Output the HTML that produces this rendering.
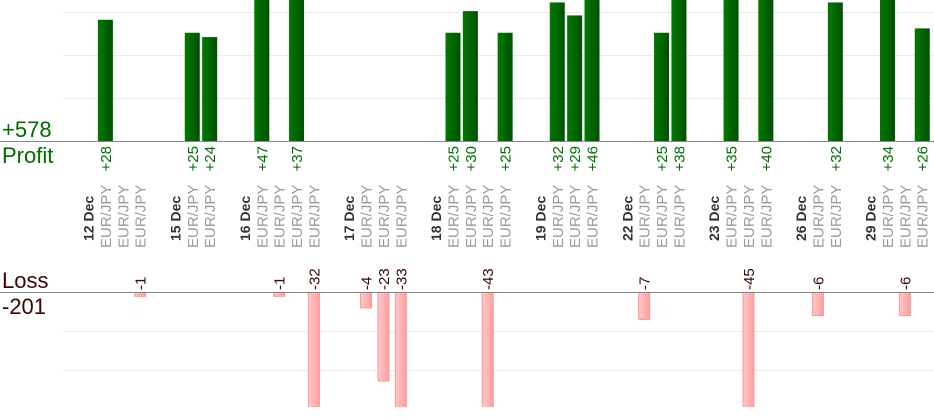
<!DOCTYPE html>
<html><head><meta charset="utf-8"><style>
html,body{margin:0;padding:0;background:#fff;width:934px;height:420px;overflow:hidden}
svg{display:block;font-family:"Liberation Sans",sans-serif;position:absolute;left:0;top:0}
</style></head><body>
<svg width="934" height="420" viewBox="0 0 934 420" xmlns="http://www.w3.org/2000/svg">
<defs>
<linearGradient id="g" x1="0" x2="1" y1="0" y2="0"><stop offset="0" stop-color="#007a00"/><stop offset="1" stop-color="#005000"/></linearGradient>
<linearGradient id="r" x1="0" x2="1" y1="0" y2="0"><stop offset="0" stop-color="#ffc8c8"/><stop offset="1" stop-color="#ff9e9e"/></linearGradient>
<clipPath id="c"><rect x="0" y="0" width="934" height="407"/></clipPath>
</defs>
<g stroke="#ebebeb" stroke-width="1">
<line x1="63" x2="934" y1="12.5" y2="12.5"/><line x1="63" x2="934" y1="55.5" y2="55.5"/><line x1="63" x2="934" y1="98.5" y2="98.5"/>
<line x1="63" x2="934" y1="331.5" y2="331.5"/><line x1="63" x2="934" y1="370.5" y2="370.5"/>
</g>
<g id="bars" clip-path="url(#c)"></g>
<line x1="0" x2="934" y1="141.5" y2="141.5" stroke="#888"/>
<line x1="0" x2="934" y1="292.5" y2="292.5" stroke="#888"/>
<text x="2" y="137" font-size="22" fill="#006b00">+578</text>
<text x="2" y="163" font-size="22" fill="#006b00">Profit</text>
<text x="2" y="288" font-size="22" fill="#3a0505">Loss</text>
<text x="2" y="314" font-size="22" fill="#3a0505">-201</text>
<g id="labels"></g>
</svg>
<script>
var ns="http://www.w3.org/2000/svg";
function el(p,t,a,txt){var e=document.createElementNS(ns,t);for(var k in a)e.setAttribute(k,a[k]);if(txt!=null)e.textContent=txt;document.getElementById(p).appendChild(e);return e;}
var dates={0:"12 Dec",5:"15 Dec",9:"16 Dec",15:"17 Dec",20:"18 Dec",26:"19 Dec",31:"22 Dec",36:"23 Dec",41:"26 Dec",45:"29 Dec"};
var eur=[1,2,3,6,7,10,11,12,13,16,17,18,21,22,23,24,27,28,29,32,33,34,37,38,39,42,43,46,47,48];
var vals={1:28,3:-1,6:25,7:24,10:47,11:-1,12:37,13:-32,16:-4,17:-23,18:-33,21:25,22:30,23:-43,24:25,27:32,28:29,29:46,32:-7,33:25,34:38,37:35,38:-45,39:40,42:-6,43:32,46:34,47:-6,48:26};
function cx(k){return 88+17.38*k;}
for(var k in dates){var x=cx(+k)+5.5;el("labels","text",{x:0,y:0,transform:"translate("+x+",241) rotate(-90)","font-size":"14","font-weight":"bold",fill:"#333"},dates[k]);}
eur.forEach(function(k){var x=cx(k)+5.5;el("labels","text",{x:0,y:0,transform:"translate("+x+",248) rotate(-90)","font-size":"15",fill:"#999"},"EUR/JPY");});
for(var k in vals){var v=vals[k],x=cx(+k);
 if(v>0){var h=v*4.33;el("bars","rect",{x:x-7.5,y:141-h,width:15,height:h,fill:"url(#g)"});
  el("labels","text",{x:0,y:0,transform:"translate("+(x+5.5)+",146) rotate(-90)","font-size":"15",fill:"#007000","text-anchor":"end"},"+"+v);}
 else{var h=-v*3.85;el("bars","rect",{x:x-5.5,y:292.5,width:11,height:h,fill:"url(#r)",stroke:"#f59a9a","stroke-width":"1"});
  el("labels","text",{x:0,y:0,transform:"translate("+(x+5.5)+",290) rotate(-90)","font-size":"15",fill:"#3a0505"},""+v);}
}
</script>
</body></html>
